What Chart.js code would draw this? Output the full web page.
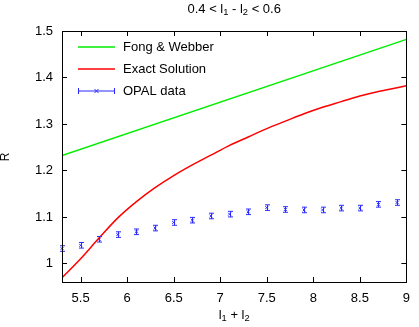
<!DOCTYPE html>
<html>
<head>
<meta charset="utf-8">
<script src="https://cdn.jsdelivr.net/npm/chart.js@4/dist/chart.umd.min.js"></script>
<style>
  html, body { margin: 0; padding: 0; background: #fff; }
  #wrap { width: 419px; height: 327px; }
</style>
</head>
<body>
<div id="wrap"><canvas id="grafico"></canvas></div>
<script>
// datos
const opalX = [5.3, 5.5, 5.7, 5.9, 6.1, 6.3, 6.5, 6.7, 6.9, 7.1, 7.3, 7.5, 7.7, 7.9, 8.1, 8.3, 8.5, 8.7, 8.9];
const opalY = [1.032, 1.039, 1.052, 1.062, 1.068, 1.076, 1.088, 1.093, 1.102, 1.106, 1.111, 1.120, 1.116, 1.115, 1.115, 1.119, 1.119, 1.127, 1.131];
const opalErr = [0.006, 0.006, 0.006, 0.006, 0.006, 0.006, 0.006, 0.006, 0.006, 0.006, 0.006, 0.006, 0.006, 0.006, 0.006, 0.006, 0.006, 0.006, 0.006];

const exactX = [5.3, 5.5, 5.7, 5.9, 6.1, 6.3, 6.5, 6.7, 6.9, 7.1, 7.3, 7.5, 7.7, 7.9, 8.1, 8.3, 8.5, 8.7, 8.9, 9.0];
const exactY = [0.969, 1.010, 1.055, 1.098, 1.133, 1.163, 1.189, 1.212, 1.233, 1.254, 1.272, 1.290, 1.306, 1.322, 1.336, 1.348, 1.360, 1.370, 1.378, 1.382];

const fongX = [5.3, 9.0];
const fongY = [1.232, 1.482];

const xTicks = [5.5, 6, 6.5, 7, 7.5, 8, 8.5, 9];
const yTicks = [1, 1.1, 1.2, 1.3, 1.4, 1.5];

const FUENTE = '"Liberation Sans", Arial, sans-serif';

function puntos(xs, ys) {
    return xs.map((x, i) => ({ x: x, y: ys[i] }));
}

// texto con subindices: [texto, esSub]
function textoRico(ctx, partes, x, y, size) {
    let ancho = 0;
    partes.forEach(p => {
        ctx.font = (p[1] ? size * 0.72 : size) + 'px ' + FUENTE;
        ancho += ctx.measureText(p[0]).width;
    });
    let cx = x - ancho / 2;
    partes.forEach(p => {
        ctx.font = (p[1] ? size * 0.72 : size) + 'px ' + FUENTE;
        ctx.fillText(p[0], cx, p[1] ? y + size * 0.3 : y);
        cx += ctx.measureText(p[0]).width;
    });
}

const extras = {
    id: 'extras',
    afterDatasetsDraw(chart) {
        const ctx = chart.ctx;
        const a = chart.chartArea;
        const sx = chart.scales.x, sy = chart.scales.y;
        ctx.save();

        // barras de error OPAL
        ctx.strokeStyle = '#2b2bff';
        ctx.lineWidth = 1;
        opalX.forEach((x, i) => {
            const px = Math.round(sx.getPixelForValue(x)) + 0.5;
            const y1 = sy.getPixelForValue(opalY[i] - opalErr[i]);
            const y2 = sy.getPixelForValue(opalY[i] + opalErr[i]);
            ctx.beginPath();
            ctx.moveTo(px, y1); ctx.lineTo(px, y2);
            ctx.moveTo(px - 2.5, y1); ctx.lineTo(px + 2.5, y1);
            ctx.moveTo(px - 2.5, y2); ctx.lineTo(px + 2.5, y2);
            ctx.stroke();
        });

        // marco y ticks hacia dentro
        ctx.strokeStyle = '#000';
        ctx.lineWidth = 1;
        ctx.strokeRect(Math.round(a.left) + 0.5, Math.round(a.top) + 0.5,
            Math.round(a.right - a.left), Math.round(a.bottom - a.top));
        ctx.beginPath();
        xTicks.forEach(v => {
            const px = Math.round(sx.getPixelForValue(v)) + 0.5;
            ctx.moveTo(px, a.bottom); ctx.lineTo(px, a.bottom - 5);
            ctx.moveTo(px, a.top); ctx.lineTo(px, a.top + 5);
        });
        yTicks.forEach(v => {
            const py = Math.round(sy.getPixelForValue(v)) + 0.5;
            ctx.moveTo(a.left, py); ctx.lineTo(a.left + 5, py);
            ctx.moveTo(a.right, py); ctx.lineTo(a.right - 5, py);
        });
        ctx.stroke();

        // leyenda
        const filas = [
            ['Fong & Webber', '#00ee00'],
            ['Exact Solution', '#ff0000'],
            ['OPAL data', '#2b2bff']
        ];
        ctx.font = '13px ' + FUENTE;
        ctx.textBaseline = 'middle';
        filas.forEach((f, i) => {
            const yy = 47 + i * 22;
            ctx.strokeStyle = f[1];
            ctx.lineWidth = i === 2 ? 1 : 1.5;
            ctx.beginPath();
            ctx.moveTo(78, yy); ctx.lineTo(115, yy);
            if (i === 2) {
                ctx.moveTo(78.5, yy - 3); ctx.lineTo(78.5, yy + 3);
                ctx.moveTo(114.5, yy - 3); ctx.lineTo(114.5, yy + 3);
                ctx.moveTo(94.5, yy - 2); ctx.lineTo(98.5, yy + 2);
                ctx.moveTo(94.5, yy + 2); ctx.lineTo(98.5, yy - 2);
            }
            ctx.stroke();
            ctx.fillStyle = '#000';
            ctx.fillText(f[0], 123, yy);
        });

        // titulos
        ctx.fillStyle = '#000';
        ctx.textBaseline = 'middle';
        const cx = (a.left + a.right) / 2;
        textoRico(ctx, [['0.4 < l', 0], ['1', 1], [' - l', 0], ['2', 1], [' < 0.6', 0]], cx, 9, 13);
        textoRico(ctx, [['l', 0], ['1', 1], [' + l', 0], ['2', 1]], cx, 315, 13);
        ctx.translate(6, 157);
        ctx.rotate(-Math.PI / 2);
        textoRico(ctx, [['R', 0]], 0, 0, 12);
        ctx.restore();
    }
};

const ctxGrafico = document.getElementById('grafico').getContext('2d');
new Chart(ctxGrafico, {
    type: 'scatter',
    data: {
        datasets: [
            {
                label: 'Fong & Webber',
                data: puntos(fongX, fongY),
                showLine: true,
                borderColor: '#00ee00',
                borderWidth: 1.5,
                pointRadius: 0
            },
            {
                label: 'Exact Solution',
                data: puntos(exactX, exactY),
                showLine: true,
                borderColor: '#ff0000',
                borderWidth: 1.5,
                cubicInterpolationMode: 'monotone',
                pointRadius: 0
            },
            {
                label: 'OPAL data',
                data: puntos(opalX, opalY),
                pointStyle: 'crossRot',
                pointRadius: 2,
                borderColor: '#2b2bff',
                borderWidth: 1,
                clip: false
            }
        ]
    },
    options: {
        responsive: true,
        maintainAspectRatio: false,
        animation: false,
        layout: { padding: { top: 31, right: 6, left: 0, bottom: 0 } },
        plugins: {
            legend: { display: false },
            tooltip: { enabled: false }
        },
        scales: {
            x: {
                type: 'linear',
                min: 5.3,
                max: 9,
                grid: { display: false, drawTicks: false },
                border: { display: false },
                afterBuildTicks: s => { s.ticks = xTicks.map(v => ({ value: v })); },
                afterFit: s => { s.height = 45; },
                ticks: {
                    padding: 9,
                    color: '#000',
                    font: { family: FUENTE, size: 13 },
                    callback: v => String(v)
                }
            },
            y: {
                type: 'linear',
                min: 0.96,
                max: 1.5,
                grid: { display: false, drawTicks: false },
                border: { display: false },
                afterBuildTicks: s => { s.ticks = yTicks.map(v => ({ value: v })); },
                afterFit: s => { s.width = 62; },
                ticks: {
                    padding: 9,
                    color: '#000',
                    font: { family: FUENTE, size: 13 },
                    callback: v => String(v)
                }
            }
        }
    },
    plugins: [extras]
});
</script>
</body>
</html>
